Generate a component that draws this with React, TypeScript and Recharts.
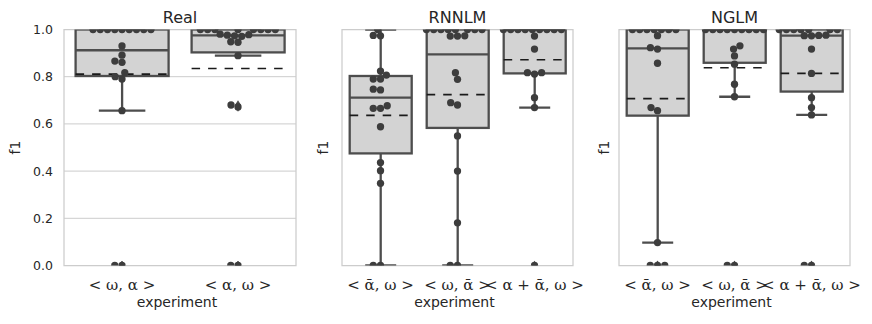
import React from "react";
import {
  ComposedChart,
  Bar,
  Scatter,
  XAxis,
  YAxis,
  CartesianGrid,
  ReferenceArea,
} from "recharts";

// box stats per category: [lower whisker, q1, median, q3, upper whisker, mean]
const REAL_CATS = ["< ω, α >", "< α, ω >"];
const REAL_STATS = [
  [0.656, 0.803, 0.912, 1.0, 1.0, 0.811],
  [0.889, 0.903, 0.975, 1.0, 1.0, 0.835],
];
const REAL_POINTS = [
  [1, 1, 1, 1, 1, 1, 1, 1, 1, 0.93, 0.891, 0.866, 0.861, 0.817, 0.8, 0.79, 0.656, 0, 0],
  [1, 1, 1, 1, 1, 1, 1, 1, 0.98, 0.978, 0.976, 0.973, 0.971, 0.948, 0.946, 0.889, 0.68, 0.672, 0, 0],
];

const RNNLM_CATS = ["< ᾱ, ω >", "< ω, ᾱ >", "< α + ᾱ, ω >"];
const RNNLM_STATS = [
  [0.0, 0.475, 0.711, 0.803, 1.0, 0.636],
  [0.0, 0.583, 0.895, 1.0, 1.0, 0.724],
  [0.669, 0.814, 1.0, 1.0, 1.0, 0.872],
];
const RNNLM_POINTS = [
  [1, 0.975, 0.973, 0.824, 0.807, 0.79, 0.79, 0.747, 0.744, 0.677, 0.666, 0.666, 0.588, 0.436, 0.402, 0.348, 0, 0],
  [1, 1, 1, 1, 1, 1, 1, 1, 0.973, 0.972, 0.972, 0.817, 0.789, 0.69, 0.68, 0.549, 0.4, 0.181, 0, 0],
  [1, 1, 1, 1, 1, 1, 1, 1, 1, 0.972, 0.917, 0.817, 0.811, 0.817, 0.711, 0.669, 0],
];

const NGLM_CATS = ["< ᾱ, ω >", "< ω, ᾱ >", "< α + ᾱ, ω >"];
const NGLM_STATS = [
  [0.097, 0.635, 0.92, 1.0, 1.0, 0.707],
  [0.715, 0.859, 1.0, 1.0, 1.0, 0.838],
  [0.638, 0.737, 0.974, 1.0, 1.0, 0.814],
];
const NGLM_POINTS = [
  [1, 1, 1, 1, 1, 1, 1, 0.974, 0.923, 0.917, 0.857, 0.669, 0.656, 0.097, 0, 0, 0],
  [1, 1, 1, 1, 1, 1, 1, 1, 1, 0.931, 0.917, 0.888, 0.853, 0.768, 0.715, 0, 0],
  [1, 1, 1, 1, 1, 1, 1, 0.976, 0.975, 0.974, 0.973, 0.917, 0.814, 0.711, 0.669, 0.638, 0, 0],
];

const Y_TICKS = [0, 0.2, 0.4, 0.6, 0.8, 1.0];

const TEXT = "#262626";
const EDGE = "#4d4d4d";
const DOT_COLOR = "#3d3d3d";
const GRID = "#cccccc";
const SANS = "DejaVu Sans";

const PLOT_H = 236;
const DOT = 6.9;
const DOT_R = 3.65;

// seaborn-style beeswarm, offsets in px from the category centre
function swarm(values: number[]) {
  const sorted = [...values].sort((a, b) => a - b);
  const placed: { x: number; y: number; value: number }[] = [];
  for (const v of sorted) {
    const y = v * PLOT_H;
    const nb: { x: number; y: number }[] = [];
    for (let j = placed.length - 1; j >= 0; j--) {
      if (y - placed[j].y < DOT) nb.unshift(placed[j]);
      else break;
    }
    const cands = [0];
    let leftFirst = true;
    for (const n of nb) {
      const dy = y - n.y;
      const dx = Math.sqrt(Math.max(DOT * DOT - dy * dy, 0)) * 1.05;
      if (leftFirst) cands.push(n.x - dx, n.x + dx);
      else cands.push(n.x + dx, n.x - dx);
      leftFirst = !leftFirst;
    }
    const order = cands
      .map((c, i) => ({ c, i }))
      .sort((a, b) => Math.abs(a.c) - Math.abs(b.c) || a.i - b.i);
    let x = 0;
    if (nb.length) {
      for (const { c } of order) {
        if (nb.every((n) => (n.x - c) ** 2 + (n.y - y) ** 2 >= DOT * DOT - 1e-9)) {
          x = c;
          break;
        }
      }
    }
    placed.push({ x, y, value: v });
  }
  return placed.map((p) => ({ value: p.value, dx: p.x }));
}

function BoxShape(props: any) {
  const { x, y, width, height, payload } = props;
  if (!payload) return null;
  const top = Math.min(y, y + height);
  const bottom = Math.max(y, y + height);
  const k = (bottom - top) / (payload.q3 - payload.q1);
  const py = (v: number) => top + (payload.q3 - v) * k;
  const cx = x + width / 2;
  const cap = width / 4;
  const line = { stroke: EDGE, strokeWidth: 2.3 };
  return (
    <g>
      <line x1={cx} x2={cx} y1={py(payload.q1)} y2={py(payload.lo)} {...line} />
      <line x1={cx} x2={cx} y1={py(payload.q3)} y2={py(payload.hi)} {...line} />
      <line x1={cx - cap} x2={cx + cap} y1={py(payload.lo)} y2={py(payload.lo)} {...line} />
      <line x1={cx - cap} x2={cx + cap} y1={py(payload.hi)} y2={py(payload.hi)} {...line} />
      <rect x={x} y={top} width={width} height={bottom - top} fill="#d3d3d3" {...line} />
      <line x1={x} x2={x + width} y1={py(payload.med)} y2={py(payload.med)} {...line} />
      <line
        x1={x}
        x2={x + width}
        y1={py(payload.mean)}
        y2={py(payload.mean)}
        stroke="#1a1a1a"
        strokeWidth={1.6}
        strokeDasharray="8.5 8"
      />
    </g>
  );
}

function MarkShape(props: any) {
  const { cx, cy, payload } = props;
  if (cx == null || cy == null) return null;
  if (payload.kind === "flier") {
    return (
      <path
        d={`M${cx},${cy - 4.8}L${cx + 3},${cy}L${cx},${cy + 4.8}L${cx - 3},${cy}Z`}
        fill={EDGE}
      />
    );
  }
  return <circle cx={cx + payload.dx} cy={cy} r={DOT_R} fill={DOT_COLOR} />;
}

interface PanelProps {
  title: string;
  cats: string[];
  stats: number[][];
  points: number[][];
  left: number;
  width: number;
  yWidth: number;
  marginRight: number;
  f1X: number;
  showTicks: boolean;
}

function Panel({ title, cats, stats, points, left, width, yWidth, marginRight, f1X, showTicks }: PanelProps) {
  const rows = cats.map((name, i) => {
    const [lo, q1, med, q3, hi, mean] = stats[i];
    return { name, box: [q1, q3], lo, q1, med, q3, hi, mean };
  });
  const marks = cats.flatMap((name, i) => {
    const [lo, , , , hi] = stats[i];
    const fliers = points[i]
      .filter((v) => v < lo || v > hi)
      .map((v) => ({ name, value: v, dx: 0, kind: "flier" }));
    const dots = swarm(points[i]).map((p) => ({ name, value: p.value, dx: p.dx, kind: "dot" }));
    return [...fliers, ...dots];
  });

  return (
    <div style={{ position: "absolute", left, top: 0 }}>
      <ComposedChart
        width={width}
        height={324}
        data={rows}
        margin={{ top: 29.5, right: marginRight, bottom: 0, left: 0 }}
        barCategoryGap="10%"
      >
        <CartesianGrid vertical={false} stroke={GRID} strokeWidth={1} />
        <ReferenceArea
          y1={0}
          y2={1}
          fill="none"
          fillOpacity={0}
          stroke={GRID}
          strokeWidth={1.25}
          label={{
            content: (p: any) => {
              const vb = p.viewBox;
              return (
                <text x={vb.x + vb.width / 2} y={vb.y - 6.5} textAnchor="middle" fill={TEXT} fontSize={16} fontFamily={SANS}>
                  {title}
                </text>
              );
            },
          }}
        />
        <XAxis
          dataKey="name"
          type="category"
          allowDuplicatedCategory={false}
          axisLine={false}
          tickLine={false}
          tickSize={6}
          tickMargin={8}
          height={58.5}
          interval={0}
          tick={{ fill: TEXT, fontSize: 15, fontFamily: "DejaVu Serif" }}
          label={{
            content: (p: any) => {
              const vb = p.viewBox;
              return (
                <text x={vb.x + vb.width / 2 - 3} y={vb.y + 41.5} textAnchor="middle" fill={TEXT} fontSize={14} fontFamily={SANS}>
                  experiment
                </text>
              );
            },
          }}
        />
        <YAxis
          type="number"
          domain={[0, 1]}
          ticks={Y_TICKS}
          allowDataOverflow
          width={yWidth}
          axisLine={false}
          tickLine={false}
          tickSize={6}
          tickMargin={5}
          tick={showTicks ? { fill: TEXT, fontSize: 12.5, fontFamily: SANS } : false}
          tickFormatter={(v: number) => v.toFixed(1)}
          label={{
            content: (p: any) => {
              const vb = p.viewBox;
              const cy = vb.y + vb.height / 2;
              return (
                <text
                  x={f1X}
                  y={cy}
                  transform={`rotate(-90, ${f1X}, ${cy})`}
                  textAnchor="middle"
                  fill={TEXT}
                  fontSize={14}
                  fontFamily={SANS}
                >
                  f1
                </text>
              );
            },
          }}
        />
        <Bar dataKey="box" shape={BoxShape} isAnimationActive={false} />
        <Scatter data={marks} dataKey="value" shape={MarkShape} isAnimationActive={false} />
      </ComposedChart>
    </div>
  );
}

export default function App() {
  return (
    <div style={{ position: "absolute", left: 0, top: 0, width: 872, height: 324, background: "#fff" }}>
      <Panel title="Real" cats={REAL_CATS} stats={REAL_STATS} points={REAL_POINTS} left={0} width={300} yWidth={64} marginRight={4} f1X={20} showTicks />
      <Panel title="RNNLM" cats={RNNLM_CATS} stats={RNNLM_STATS} points={RNNLM_POINTS} left={300} width={292} yWidth={42} marginRight={19} f1X={28} showTicks={false} />
      <Panel title="NGLM" cats={NGLM_CATS} stats={NGLM_STATS} points={NGLM_POINTS} left={580} width={292} yWidth={39} marginRight={22} f1X={29} showTicks={false} />
    </div>
  );
}
